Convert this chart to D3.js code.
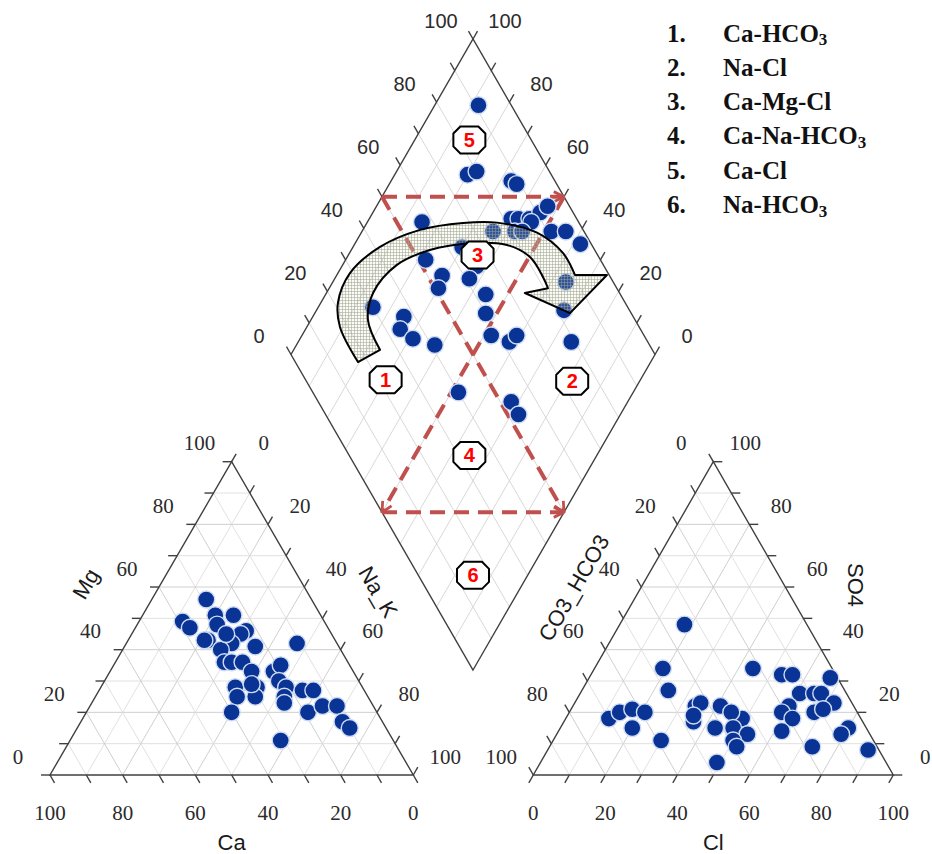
<!DOCTYPE html>
<html>
<head>
<meta charset="utf-8">
<script src="https://cdn.jsdelivr.net/npm/d3@7"></script>
<style>
  body { margin: 0; background: #fff; }
</style>
</head>
<body>
<div id="piper"></div>
<script>
// cation triangle (%)
const cationCa  = [29, 39, 38, 29, 24, 30, 23, 25, 35, 29, 23, 33, 11, 34, 32, 29, 28, 22, 19, 35, 36, 29, 31, 22, 21, 23, 17, 14, 24, 40, 19, 14, 10, 11, 10, 31, 30, 36, 29];
const cationMg  = [56, 49, 47, 51, 51, 48, 46, 45, 43, 42, 41, 40, 42, 36, 36, 36, 33, 33, 35, 28, 25, 28, 25, 30, 28, 25, 27, 27, 23, 20, 20, 22, 22, 17, 15, 11, 29, 43, 45];
const cationNaK = [15, 12, 15, 20, 25, 22, 31, 30, 22, 29, 36, 27, 47, 30, 32, 35, 39, 45, 46, 37, 39, 43, 44, 48, 51, 52, 56, 59, 53, 40, 61, 64, 68, 72, 75, 58, 41, 21, 26];

// anion triangle (%)
const anionCl   = [18, 19, 24, 12, 14, 17, 21, 20, 30, 34, 35, 36, 44, 53, 56, 67, 61, 65, 67, 72, 60, 59, 68, 70, 63, 62, 80, 79, 89, 73, 41, 49, 45, 43, 48, 53, 50, 52, 49, 35];
const anionSO4  = [48, 34, 27, 18, 20, 21, 20, 15, 11, 22, 23, 17, 34, 32, 32, 31, 26, 26, 26, 23, 22, 20, 20, 21, 18, 14, 15, 13, 8, 9, 22, 18, 20, 15, 15, 13, 11, 9, 4, 19];
const anionHCO3 = [34, 47, 49, 70, 66, 62, 59, 65, 59, 44, 42, 47, 22, 15, 12, 2, 13, 9, 7, 5, 18, 21, 12, 9, 19, 24, 5, 8, 3, 18, 37, 33, 35, 42, 37, 34, 39, 39, 47, 46];

// diamond (%)
const diamondSO4Cl = [91, 77, 80, 88, 89, 57, 82, 84, 87, 91, 87, 75, 81, 83, 91, 95, 97, 64, 65, 52, 65, 54, 51, 61, 63, 87, 30, 37, 34, 36, 41, 60, 58, 62, 65, 82, 79, 40, 53, 53, 94];
const diamondCaMg  = [88, 80, 78, 67, 65, 85, 61, 59, 56, 54, 55, 64, 58, 56, 48, 44, 38, 70, 67, 78, 63, 71, 70, 63, 56, 36, 85, 75, 74, 69, 62, 53, 48, 42, 41, 32, 25, 48, 32, 28, 53];

const tickValues = [0, 20, 40, 60, 80, 100];

const legendNums  = ["1.", "2.", "3.", "4.", "5.", "6."];
const legendNames = ["Ca-HCO", "Na-Cl", "Ca-Mg-Cl", "Ca-Na-HCO", "Ca-Cl", "Na-HCO"];
const legendSubs  = ["3", "", "", "3", "", "3"];

// water type zones (diamond coords: SO4+Cl, Ca+Mg)
const zoneIds    = ["1", "2", "3", "4", "5", "6"];
const zoneSO4Cl  = [22, 73, 67, 33, 83, 15];
const zoneCaMg   = [70, 18.5, 64.5, 35, 85, 15];

// dashed sub-areas (diamond coords)
const dashFrom = [[50, 100], [50, 100], [100, 50], [0, 50]];
const dashTo   = [[100, 50], [50, 0], [0, 50], [50, 0]];

// evolution arrow outline (diamond coords)
const arrowOuter = [[17.2, 80.4], [17.8, 90.9], [21.1, 95.3], [29.1, 96.7], [41.5, 92.6], [55.2, 84.3], [68.1, 73.6], [77.5, 64.3], [86.9, 51.7], [90.8, 41.3], [90.6, 34.6]];
const arrowHead  = [[99.4, 25.8], [83.2, 29.9], [74.0, 45.5]];
const arrowInner = [[81.1, 39.9], [81.5, 43.0], [81.1, 49.8], [76.7, 58.0], [66.8, 68.5], [54.7, 78.4], [43.3, 85.1], [32.3, 87.2], [26.6, 84.3], [25.2, 76.3]];

const width = 932, height = 854;
const serif = "'Liberation Serif', 'Times New Roman', serif";
const sans = "'Liberation Sans', Arial, sans-serif";

const svg = d3.select("#piper").append("svg")
  .attr("width", width)
  .attr("height", height);

// scales
let leftX  = d3.scaleLinear().domain([0, 100]).range([50, 413.3]);
let rightX = d3.scaleLinear().domain([0, 100]).range([533.3, 893.3]);
let triY   = d3.scaleLinear().domain([0, 100]).range([775, 461.7]);
let diaX   = d3.scaleLinear().domain([-100, 100]).range([291, 655]);
let diaY   = d3.scaleLinear().domain([0, 200]).range([670, 39]);

const catPos = (nak, mg) => [leftX(nak + mg / 2), triY(mg)];
const anPos = (cl, so4) => [rightX(cl + so4 / 2), triY(so4)];
const diaPos = (a, b) => [diaX(a - b), diaY(a + b)];

const defs = svg.append("defs");
let pat = defs.append("pattern")
  .attr("id", "dots")
  .attr("width", 3).attr("height", 3)
  .attr("patternUnits", "userSpaceOnUse");
pat.append("rect").attr("width", 3).attr("height", 3).attr("fill", "rgba(226,232,210,0.18)");
pat.append("path").attr("d", "M0,0.5H3M0.5,0V3")
  .attr("stroke", "#9aa08a").attr("stroke-width", 0.5);

defs.append("marker")
  .attr("id", "head")
  .attr("viewBox", "0 0 10 10")
  .attr("refX", 9).attr("refY", 5)
  .attr("markerWidth", 3.2).attr("markerHeight", 3.2)
  .attr("orient", "auto")
  .append("path")
    .attr("d", "M1,1 L9,5 L1,9")
    .attr("fill", "none")
    .attr("stroke", "#c0504d")
    .attr("stroke-width", 2.2);

let grid = svg.append("g")
  .attr("stroke-width", 0.9)
  .attr("fill", "none");

const seg = (g, p, q) => g.append("line")
  .attr("x1", p[0]).attr("y1", p[1]).attr("x2", q[0]).attr("y2", q[1]);

d3.range(10, 100, 10).forEach(v => {
  let c = v % 20 === 0 ? "#c9c9c9" : "#dedede";
  // cation grid
  seg(grid, catPos(0, v), catPos(100 - v, v)).attr("stroke", c);
  seg(grid, catPos(v, 0), catPos(v, 100 - v)).attr("stroke", c);
  seg(grid, catPos(100 - v, 0), catPos(0, 100 - v)).attr("stroke", c);
  // anion grid
  seg(grid, anPos(0, v), anPos(100 - v, v)).attr("stroke", c);
  seg(grid, anPos(v, 0), anPos(v, 100 - v)).attr("stroke", c);
  seg(grid, anPos(100 - v, 0), anPos(0, 100 - v)).attr("stroke", c);
  // diamond grid
  seg(grid, diaPos(v, 0), diaPos(v, 100)).attr("stroke", "#d4d4d4");
  seg(grid, diaPos(0, v), diaPos(100, v)).attr("stroke", "#d4d4d4");
});

// outlines
let frame = svg.append("g")
  .attr("stroke", "#404040")
  .attr("stroke-width", 1.4)
  .attr("fill", "none");

const poly = pts => "M" + pts.map(p => p.join(",")).join("L") + "Z";
frame.append("path").attr("d", poly([catPos(0, 0), catPos(100, 0), catPos(0, 100)]));
frame.append("path").attr("d", poly([anPos(0, 0), anPos(100, 0), anPos(0, 100)]));
frame.append("path").attr("d", poly([diaPos(0, 0), diaPos(100, 0), diaPos(100, 100), diaPos(0, 100)]));

// ticks
const tickLen = 9;
const c60 = Math.sqrt(3) / 2;
const tick = (p, dx, dy) => seg(frame, p, [p[0] + dx * tickLen, p[1] + dy * tickLen]);
d3.range(0, 101, 10).forEach(v => {
  tick(catPos(0, v), -1, 0);
  tick(catPos(v, 100 - v), 0.5, -c60);
  tick(catPos(100 - v, 0), 0.5, c60);
  tick(anPos(0, 100 - v), -0.5, -c60);
  tick(anPos(100 - v, v), 1, 0);
  tick(anPos(v, 0), -0.5, c60);
  tick(diaPos(v, 100), -0.5, -c60);
  tick(diaPos(100, v), 0.5, -c60);
});

// tick labels
let labels = svg.append("g")
  .attr("fill", "#2b2b2b")
  .attr("text-anchor", "middle")
  .attr("dominant-baseline", "central");

const off = 37;
const lab = (p, dx, dy, t, font, size) => labels.append("text")
  .attr("x", p[0] + dx).attr("y", p[1] + dy)
  .attr("font-family", font).attr("font-size", size)
  .text(t);

tickValues.forEach(v => {
  lab(catPos(0, v), -c60 * off, -0.5 * off, v, serif, 21);
  lab(catPos(v, 100 - v), c60 * off, -0.5 * off, v, serif, 21);
  lab(catPos(100 - v, 0), 0, 38, v, serif, 21);
  lab(anPos(0, 100 - v), -c60 * off, -0.5 * off, v, serif, 21);
  lab(anPos(100 - v, v), c60 * off, -0.5 * off, v, serif, 21);
  lab(anPos(v, 0), 0, 38, v, serif, 21);
  lab(diaPos(v, 100), -c60 * off, -0.5 * off, v, sans, 20);
  lab(diaPos(100, v), c60 * off, -0.5 * off, v, sans, 20);
});

// axis names
const axisName = (x, y, rot, t) => svg.append("text")
  .attr("transform", `translate(${x},${y}) rotate(${rot})`)
  .attr("text-anchor", "middle")
  .attr("dominant-baseline", "central")
  .attr("font-family", sans)
  .attr("font-size", 22)
  .attr("fill", "#1a1a1a")
  .text(t);

axisName(leftX(50), 842, 0, "Ca");
axisName(86, 584, -60, "Mg");
axisName(378, 592, 60, "Na_K");
axisName(rightX(50), 842, 0, "Cl");
axisName(574, 588, -60, "CO3_HCO3");
axisName(855, 585, 90, "SO4");

// dashed zones
let dashes = svg.append("g")
  .attr("stroke", "#c0504d")
  .attr("stroke-width", 4)
  .attr("stroke-dasharray", "15,9")
  .attr("fill", "none");

dashFrom.forEach((f, i) => {
  let p = diaPos(f[0], f[1]);
  let q = diaPos(dashTo[i][0], dashTo[i][1]);
  seg(dashes, p, q).attr("marker-end", "url(#head)");
});

// samples
const dotR = 8.5;
const dots = svg.append("g")
  .attr("fill", "#0a3396")
  .attr("stroke", "#cfdcf2")
  .attr("stroke-width", 1.4);

dots.selectAll(".cat")
  .data(cationMg)
  .enter()
  .append("circle")
    .attr("cx", (d, i) => catPos(cationNaK[i], d)[0])
    .attr("cy", (d, i) => catPos(cationNaK[i], d)[1])
    .attr("r", dotR);

dots.selectAll(".an")
  .data(anionSO4)
  .enter()
  .append("circle")
    .attr("cx", (d, i) => anPos(anionCl[i], d)[0])
    .attr("cy", (d, i) => anPos(anionCl[i], d)[1])
    .attr("r", dotR);

dots.selectAll(".dia")
  .data(diamondSO4Cl)
  .enter()
  .append("circle")
    .attr("cx", (d, i) => diaPos(d, diamondCaMg[i])[0])
    .attr("cy", (d, i) => diaPos(d, diamondCaMg[i])[1])
    .attr("r", dotR);

// evolution arrow
const curve = d3.line().curve(d3.curveCatmullRom.alpha(0.5));
const outerD = curve(arrowOuter.map(p => diaPos(p[0], p[1])));
const innerD = curve(arrowInner.map(p => diaPos(p[0], p[1])));
const headD = arrowHead.map(p => "L" + diaPos(p[0], p[1]).join(",")).join("");
svg.append("path")
  .attr("d", outerD + headD + innerD.replace(/^M/, "L") + "Z")
  .attr("fill", "url(#dots)")
  .attr("stroke", "#000")
  .attr("stroke-width", 2)
  .attr("stroke-linejoin", "round");

// zone markers
const ow = 16, oh = 13.5, oc = 7;
const octagon = poly([[-ow + oc, -oh], [ow - oc, -oh], [ow, -oh + oc], [ow, oh - oc],
  [ow - oc, oh], [-ow + oc, oh], [-ow, oh - oc], [-ow, -oh + oc]]);

let zones = svg.append("g")
  .selectAll("g")
  .data(zoneIds)
  .enter()
  .append("g")
    .attr("transform", (d, i) => "translate(" + diaPos(zoneSO4Cl[i], zoneCaMg[i]).join(",") + ")");

zones.append("path")
  .attr("d", octagon)
  .attr("fill", "#fff")
  .attr("stroke", "#000")
  .attr("stroke-width", 2);

zones.append("text")
  .attr("text-anchor", "middle")
  .attr("dominant-baseline", "central")
  .attr("font-family", sans)
  .attr("font-weight", "bold")
  .attr("font-size", 20)
  .attr("fill", "#ff0000")
  .text(d => d);

// legend
let legend = svg.append("g")
  .attr("font-family", serif)
  .attr("font-weight", "bold")
  .attr("font-size", 25)
  .attr("fill", "#111");

legendNums.forEach((n, i) => {
  let y = 33 + i * 34.3;
  legend.append("text").attr("x", 667).attr("y", y)
    .attr("dominant-baseline", "central").text(n);
  let t = legend.append("text").attr("x", 723).attr("y", y)
    .attr("dominant-baseline", "central").text(legendNames[i]);
  if (legendSubs[i]) {
    t.append("tspan").attr("dy", 6).attr("font-size", 17).text(legendSubs[i]);
  }
});
</script>
</body>
</html>
